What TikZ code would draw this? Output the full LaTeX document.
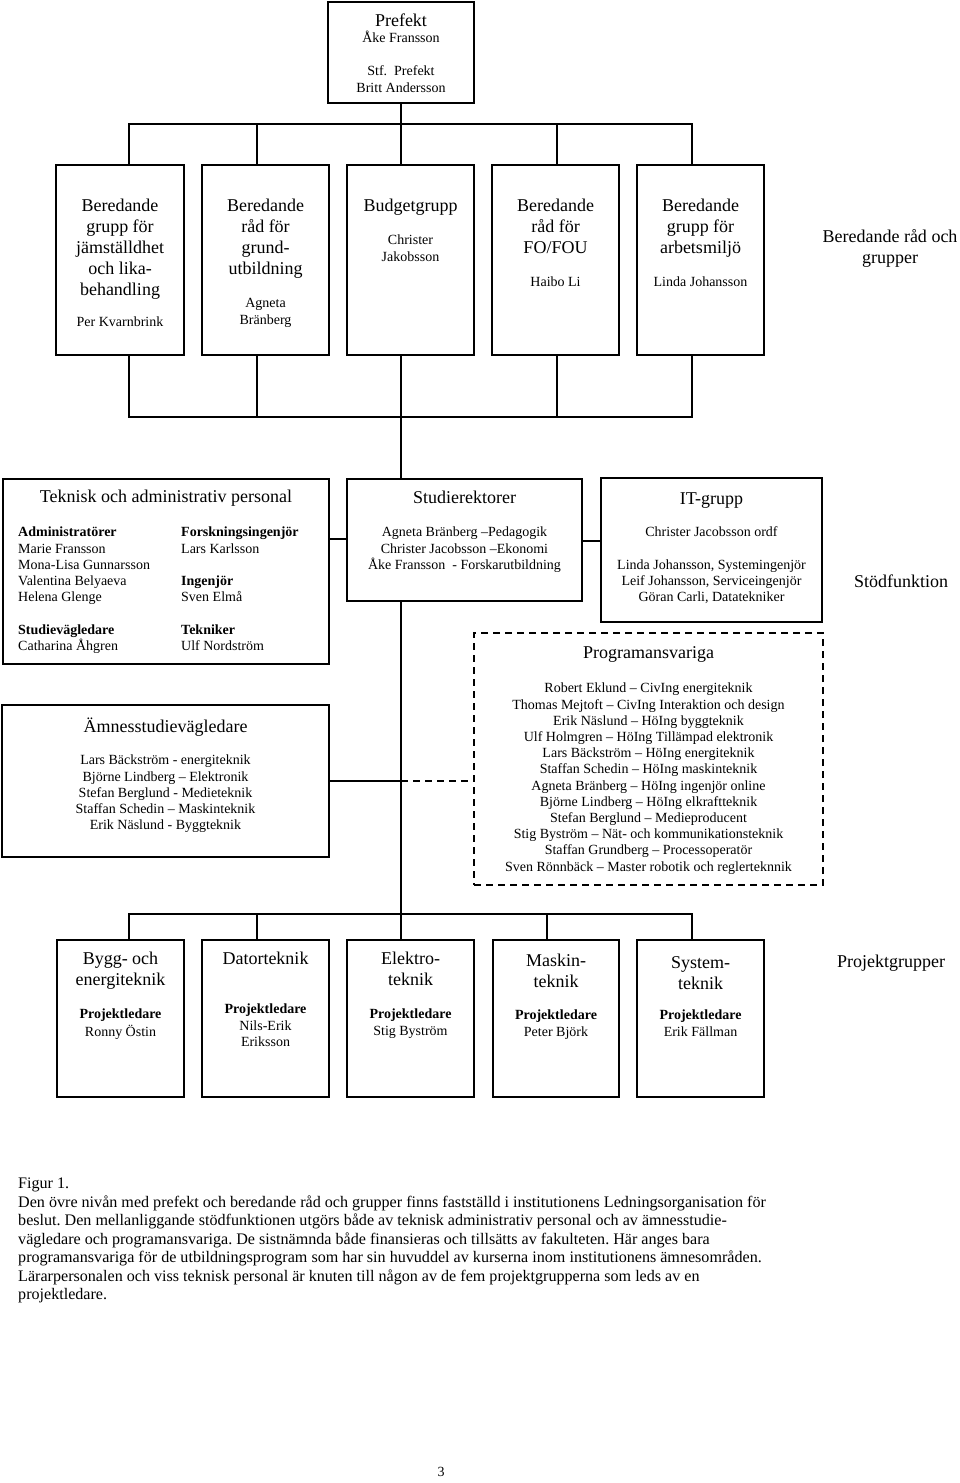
\documentclass[tikz,border=0pt]{standalone}
\usepackage{fontspec}
\setmainfont{Liberation Serif}
\frenchspacing
\newcommand\fbig{\fontsize{18}{21}\selectfont}
\newcommand\fsm{\fontsize{14}{16.2}\selectfont}
\newcommand\fcap{\fontsize{16.1}{18.5}\selectfont}
\newcommand\mybox[6][]{%
  \pgfmathsetmacro\bw{#5-#3}\pgfmathsetmacro\bh{#6-#4}%
  \pgfmathsetmacro\bcx{(#3+#5)/2}\pgfmathsetmacro\bcy{(#4+#6)/2}%
  \node[box,#1,minimum width=\bw pt,minimum height=\bh pt] (#2) at (\bcx,\bcy) {};}
\tikzset{
  box/.style={draw,line width=1.3pt,inner sep=0pt,outer sep=0pt,rectangle},
  conn/.style={line width=1.3pt},
  big/.style={font=\fbig,inner sep=0pt,anchor=north,align=center,yshift=8.7pt},
  sm/.style={font=\fsm,inner sep=0pt,anchor=north,align=center,yshift=6.7pt},
  capt/.style={font=\fcap,inner sep=0pt,anchor=north west,align=left,yshift=7.65pt},
}
\begin{document}
\begin{tikzpicture}[x=1pt,y=-1pt]
\fill[white] (0,0) rectangle (960,1483);
\useasboundingbox (0,0) rectangle (960,1483);

% ---------- boxes ----------
\mybox{pref}{328}{2}{474}{103}
\mybox{t1}{56}{165}{184}{355}
\mybox{t2}{202}{165}{329}{355}
\mybox{t3}{347}{165}{474}{355}
\mybox{t4}{492}{165}{619}{355}
\mybox{t5}{637}{165}{764}{355}
\mybox{tek}{3}{479}{329}{664}
\mybox{stud}{347}{479}{582}{601}
\mybox{it}{601}{478}{822}{622}
\mybox{amn}{2}{705}{329}{857}
\mybox[dash pattern=on 7pt off 5pt]{prog}{474}{633}{823}{885}
\mybox{b1}{57}{940}{184}{1097}
\mybox{b2}{202}{940}{329}{1097}
\mybox{b3}{347}{940}{474}{1097}
\mybox{b4}{493}{940}{619}{1097}
\mybox{b5}{637}{940}{764}{1097}

% ---------- connectors ----------
\coordinate (busT) at (401,124);
\coordinate (busM) at (401,417);
\coordinate (busB) at (401,914);
\coordinate (t1n) at ([xshift=9pt]t1.north);
\coordinate (t2n) at ([xshift=-8.5pt]t2.north);
\coordinate (t3n) at ([xshift=-9.5pt]t3.north);
\coordinate (t4n) at ([xshift=1.5pt]t4.north);
\coordinate (t5n) at ([xshift=-8.5pt]t5.north);
\coordinate (t1s) at ([xshift=9pt]t1.south);
\coordinate (t2s) at ([xshift=-8.5pt]t2.south);
\coordinate (t3s) at ([xshift=-9.5pt]t3.south);
\coordinate (t4s) at ([xshift=1.5pt]t4.south);
\coordinate (t5s) at ([xshift=-8.5pt]t5.south);
\coordinate (b1n) at ([xshift=8.5pt]b1.north);
\coordinate (b2n) at ([xshift=-8.5pt]b2.north);
\coordinate (b3n) at ([xshift=-9.5pt]b3.north);
\coordinate (b4n) at ([xshift=-9pt]b4.north);
\coordinate (b5n) at ([xshift=-8.5pt]b5.north);
\coordinate (m1) at (338,539);
\coordinate (m2) at (590,541);
\coordinate (m3) at (401,781);

\draw[conn] (pref.south) -- (busT);
\foreach \n in {t1n,t2n,t3n,t4n,t5n} \draw[conn] (\n) |- (busT);
\foreach \n in {t1s,t2s,t3s,t4s,t5s} \draw[conn] (\n) |- (busM);
\draw[conn] (busM) -- (stud.north -| busM);
\draw[conn] (tek.east |- m1) -- (stud.west |- m1);
\draw[conn] (stud.east |- m2) -- (it.west |- m2);
\draw[conn] (stud.south -| busM) -- (busB);
\draw[conn] (amn.east |- m3) -- (m3);
\draw[conn,dash pattern=on 7pt off 5pt] (m3) -- (prog.west |- m3);
\foreach \n in {b1n,b2n,b3n,b4n,b5n} \draw[conn] (\n) |- (busB);

% ---------- texts ----------
\node[big] (prefA) at (401,20) {\strut Prefekt};
\node[sm] (prefB) at (401,38) {\strut Åke Fransson};
\node[sm] (prefC) at (401,71) {\strut Stf.~ Prefekt\\Britt Andersson};

\node[big] (t1A) at (120,205) {\strut Beredande\\grupp för\\jämställdhet\\och lika-\\behandling};
\node[sm] (t1B) at (120,322) {\strut Per Kvarnbrink};
\node[big] (t2A) at (265.5,205) {\strut Beredande\\råd för\\grund-\\utbildning};
\node[sm] (t2B) at (265.5,303) {\strut Agneta\\Bränberg};
\node[big] (t3A) at (410.5,205) {\strut Budgetgrupp};
\node[sm] (t3B) at (410.5,240) {\strut Christer\\Jakobsson};
\node[big] (t4A) at (555.5,205) {\strut Beredande\\råd för\\FO/FOU};
\node[sm] (t4B) at (555.5,282) {\strut Haibo Li};
\node[big] (t5A) at (700.5,205) {\strut Beredande\\grupp för\\arbetsmiljö};
\node[sm] (t5B) at (700.5,282) {\strut Linda Johansson};
\node[big] (beredLbl) at (890,236) {\strut Beredande råd och\\grupper};

\node[big] (tekA) at (166,496) {\strut Teknisk och administrativ personal};
\node[sm,anchor=north west,align=left] (tekB) at (18,532)
  {\strut\textbf{Administratörer}\\Marie Fransson\\Mona-Lisa Gunnarsson\\Valentina Belyaeva\\Helena Glenge\\ \strut\\\textbf{Studievägledare}\\Catharina Åhgren};
\node[sm,anchor=north west,align=left] (tekC) at (181,532)
  {\strut\textbf{Forskningsingenjör}\\Lars Karlsson\\ \strut\\\textbf{Ingenjör}\\Sven Elmå\\ \strut\\\textbf{Tekniker}\\Ulf Nordström};

\node[big] (studA) at (464.5,497) {\strut Studierektorer};
\node[sm] (studB) at (464.5,532) {\strut Agneta Bränberg –Pedagogik\\Christer Jacobsson –Ekonomi\\Åke Fransson~ - Forskarutbildning};

\node[big] (itA) at (711.5,498) {\strut IT-grupp};
\node[sm] (itB) at (711.5,532) {\strut Christer Jacobsson ordf\\ \strut\\Linda Johansson, Systemingenjör\\Leif Johansson, Serviceingenjör\\Göran Carli, Datatekniker};

\node[big] (stodLbl) at (901,581) {\strut Stödfunktion};

\node[big] (amnA) at (165.5,726) {\strut Ämnesstudievägledare};
\node[sm] (amnB) at (165.5,760) {\strut Lars Bäckström - energiteknik\\Björne Lindberg – Elektronik\\Stefan Berglund - Medieteknik\\Staffan Schedin – Maskinteknik\\Erik Näslund - Byggteknik};

\node[big] (progA) at (648.5,652) {\strut Programansvariga};
\node[sm] (progB) at (648.5,688) {\strut Robert Eklund – CivIng energiteknik\\
Thomas Mejtoft – CivIng Interaktion och design\\
Erik Näslund – HöIng byggteknik\\
Ulf Holmgren – HöIng Tillämpad elektronik\\
Lars Bäckström – HöIng energiteknik\\
Staffan Schedin – HöIng maskinteknik\\
Agneta Bränberg – HöIng ingenjör online\\
Björne Lindberg – HöIng elkraftteknik\\
Stefan Berglund – Medieproducent\\
Stig Byström – Nät- och kommunikationsteknik\\
Staffan Grundberg – Processoperatör\\
Sven Rönnbäck – Master robotik och reglerteknnik};

\node[big] (b1A) at (120.5,958) {\strut Bygg- och\\energiteknik};
\node[sm] (b1B) at (120.5,1014) {\strut\textbf{Projektledare}\\Ronny Östin};
\node[big] (b2A) at (265.5,958) {\strut Datorteknik};
\node[sm] (b2B) at (265.5,1009) {\strut\textbf{Projektledare}\\Nils-Erik\\Eriksson};
\node[big] (b3A) at (410.5,958) {\strut Elektro-\\teknik};
\node[sm] (b3B) at (410.5,1014) {\strut\textbf{Projektledare}\\Stig Byström};
\node[big] (b4A) at (556,960) {\strut Maskin-\\teknik};
\node[sm] (b4B) at (556,1015) {\strut\textbf{Projektledare}\\Peter Björk};
\node[big] (b5A) at (700.5,962) {\strut System-\\teknik};
\node[sm] (b5B) at (700.5,1015) {\strut\textbf{Projektledare}\\Erik Fällman};
\node[big] (projLbl) at (891,961) {\strut Projektgrupper};

\node[capt] (caption) at (18,1183) {\strut Figur 1.\\
Den övre nivån med prefekt och beredande råd och grupper finns fastställd i institutionens Ledningsorganisation för\\
beslut. Den mellanliggande stödfunktionen utgörs både av teknisk administrativ personal och av ämnesstudie-\\
vägledare och programansvariga. De sistnämnda både finansieras och tillsätts av fakulteten. Här anges bara\\
programansvariga för de utbildningsprogram som har sin huvuddel av kurserna inom institutionens ämnesområden.\\
Lärarpersonalen och viss teknisk personal är knuten till någon av de fem projektgrupperna som leds av en\\
projektledare.};

\node[sm] (pagenum) at (441,1472) {\strut 3};
\end{tikzpicture}
\end{document}
